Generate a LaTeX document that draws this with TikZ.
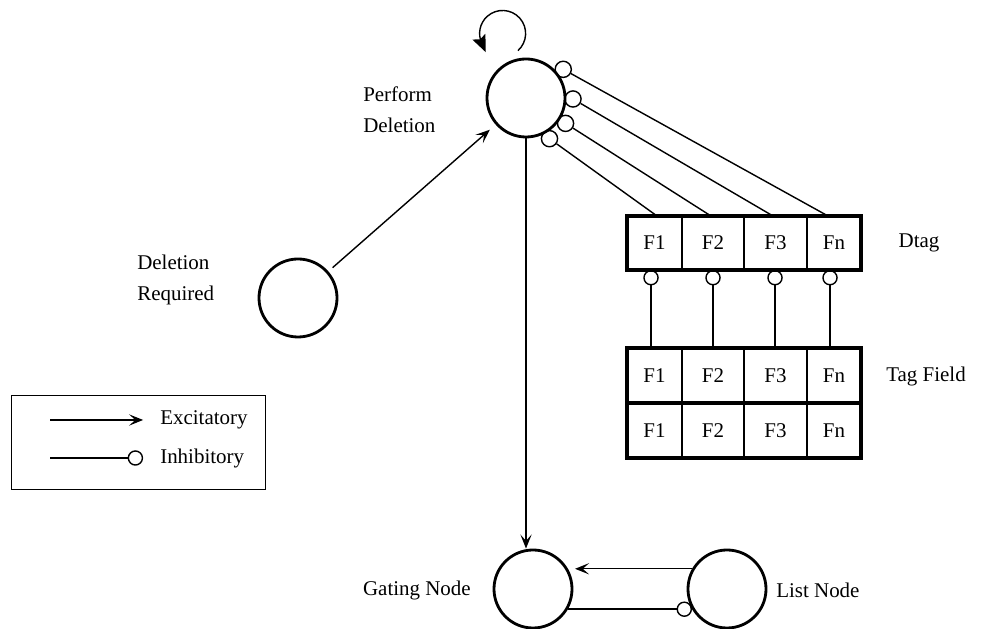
\documentclass[tikz,border=0pt]{standalone}
\usepackage{fontspec}
\setmainfont{Liberation Serif}
\usetikzlibrary{arrows.meta, positioning}

\tikzset{
  neuron/.style={circle, draw, line width=2pt, minimum size=1.95cm, inner sep=0pt},
  inhnode/.style={circle, draw, line width=1pt, minimum size=11.5pt, inner sep=0pt},
  cell/.style={rectangle, draw, line width=0.9pt, inner sep=0pt, outer sep=0pt},
  txt/.style={inner sep=0pt},
  excite/.style={line width=1pt, -{Stealth[length=10pt, width=8pt, inset=4.5pt]}},
  inhib/.style={line width=1pt, -{Circle[open, length=11pt]}},
}

\begin{document}
\begin{tikzpicture}[x=0.025cm, y=0.025cm, font=\fontsize{14.9}{22}\selectfont]
    \useasboundingbox (0,0) rectangle (992,629);

    % Neurons
    \node[neuron] (pd) at (526,531) {};
    \node[neuron] (dr) at (298,331) {};
    \node[neuron] (gate) at (533,40) {};
    \node[neuron] (list) at (727,40) {};

    % Labels
    \node[txt, anchor=west, align=left] at (363,519) {Perform\\Deletion};
    \node[txt, anchor=west, align=left] at (137,349) {Deletion\\Required};
    \node[txt, anchor=east] at (471,39) {Gating Node};
    \node[txt, anchor=west] at (776,39) {List Node};
    \node[txt] at (919,386) {Dtag};
    \node[txt] at (926,253) {Tag Field};

    % Self loop on Perform Deletion
    \draw[line width=1pt, -{Stealth[length=12pt, width=10pt, inset=2pt]}]
        ([shift={(-8,7)}]pd.north) arc[start angle=-48, end angle=205, radius=0.575cm]
        -- ++(4,-9);

    % Dtag and Tag Field tables
    \foreach \n/\f/\cx/\w in {1/F1/654.5/1.375, 2/F2/713/1.55, 3/F3/775.5/1.575, 4/Fn/834/1.35} {
        \node[cell, minimum width=\w cm, minimum height=1.35cm] (dtag\n) at (\cx,386) {\f};
        \node[cell, minimum width=\w cm, minimum height=1.375cm] (tag\n) at (\cx,253.5) {\f};
        \node[cell, minimum width=\w cm, minimum height=1.375cm] (tagb\n) at (\cx,198.5) {\f};
    }
    \draw[line width=2.2pt] (dtag1.north west) rectangle (dtag4.south east);
    \draw[line width=2.2pt] (tag1.north west) rectangle (tagb4.south east);
    \draw[line width=2.2pt] (tag1.south west) -- (tag4.south east);

    % Inhibition of Perform Deletion from Dtag
    \node[inhnode] (i1) at ([shift={(37.6:47)}]pd.center) {};
    \node[inhnode] (i2) at ([shift={(-1.2:47)}]pd.center) {};
    \node[inhnode] (i3) at ([shift={(-32.7:47)}]pd.center) {};
    \node[inhnode] (i4) at ([shift={(-60:47)}]pd.center) {};
    \draw[line width=1pt] ([xshift=0.0625cm]dtag1.north) -- (i4);
    \draw[line width=1pt] ([xshift=-0.05cm]dtag2.north) -- (i3);
    \draw[line width=1pt] ([xshift=-0.0625cm]dtag3.north) -- (i2);
    \draw[line width=1pt] ([xshift=-0.15cm]dtag4.north) -- (i1);

    % Tag Field inhibits Dtag
    \foreach \n/\dx in {1/-0.0875, 2/0, 3/-0.0125, 4/-0.1}
        \draw[inhib] ([xshift=\dx cm]tag\n.north) -- ([xshift=\dx cm]dtag\n.south);

    % Excitatory connections
    \draw[excite, shorten <=4pt, shorten >=5.5pt] (dr) -- (pd);
    \draw[excite] (pd.south) -- (pd.south |- gate.north);
    \draw[excite, shorten >=5pt] (list.150) -- (gate.30);
    \draw[inhib] (gate.-30) -- (list.210);

    % Legend
    \draw[line width=0.7pt] (11,140) rectangle (265,234);
    \node[txt, anchor=west] (exc) at (160,209) {Excitatory};
    \node[txt, anchor=west] (inh) at (160,171) {Inhibitory};
    \coordinate (legexc) at (50,209);
    \coordinate (leginh) at (50,171);
    \draw[excite, shorten >=12pt] (legexc) -- (exc.west);
    \draw[inhib, shorten >=12pt] (leginh) -- (inh.west);
\end{tikzpicture}
\end{document}
